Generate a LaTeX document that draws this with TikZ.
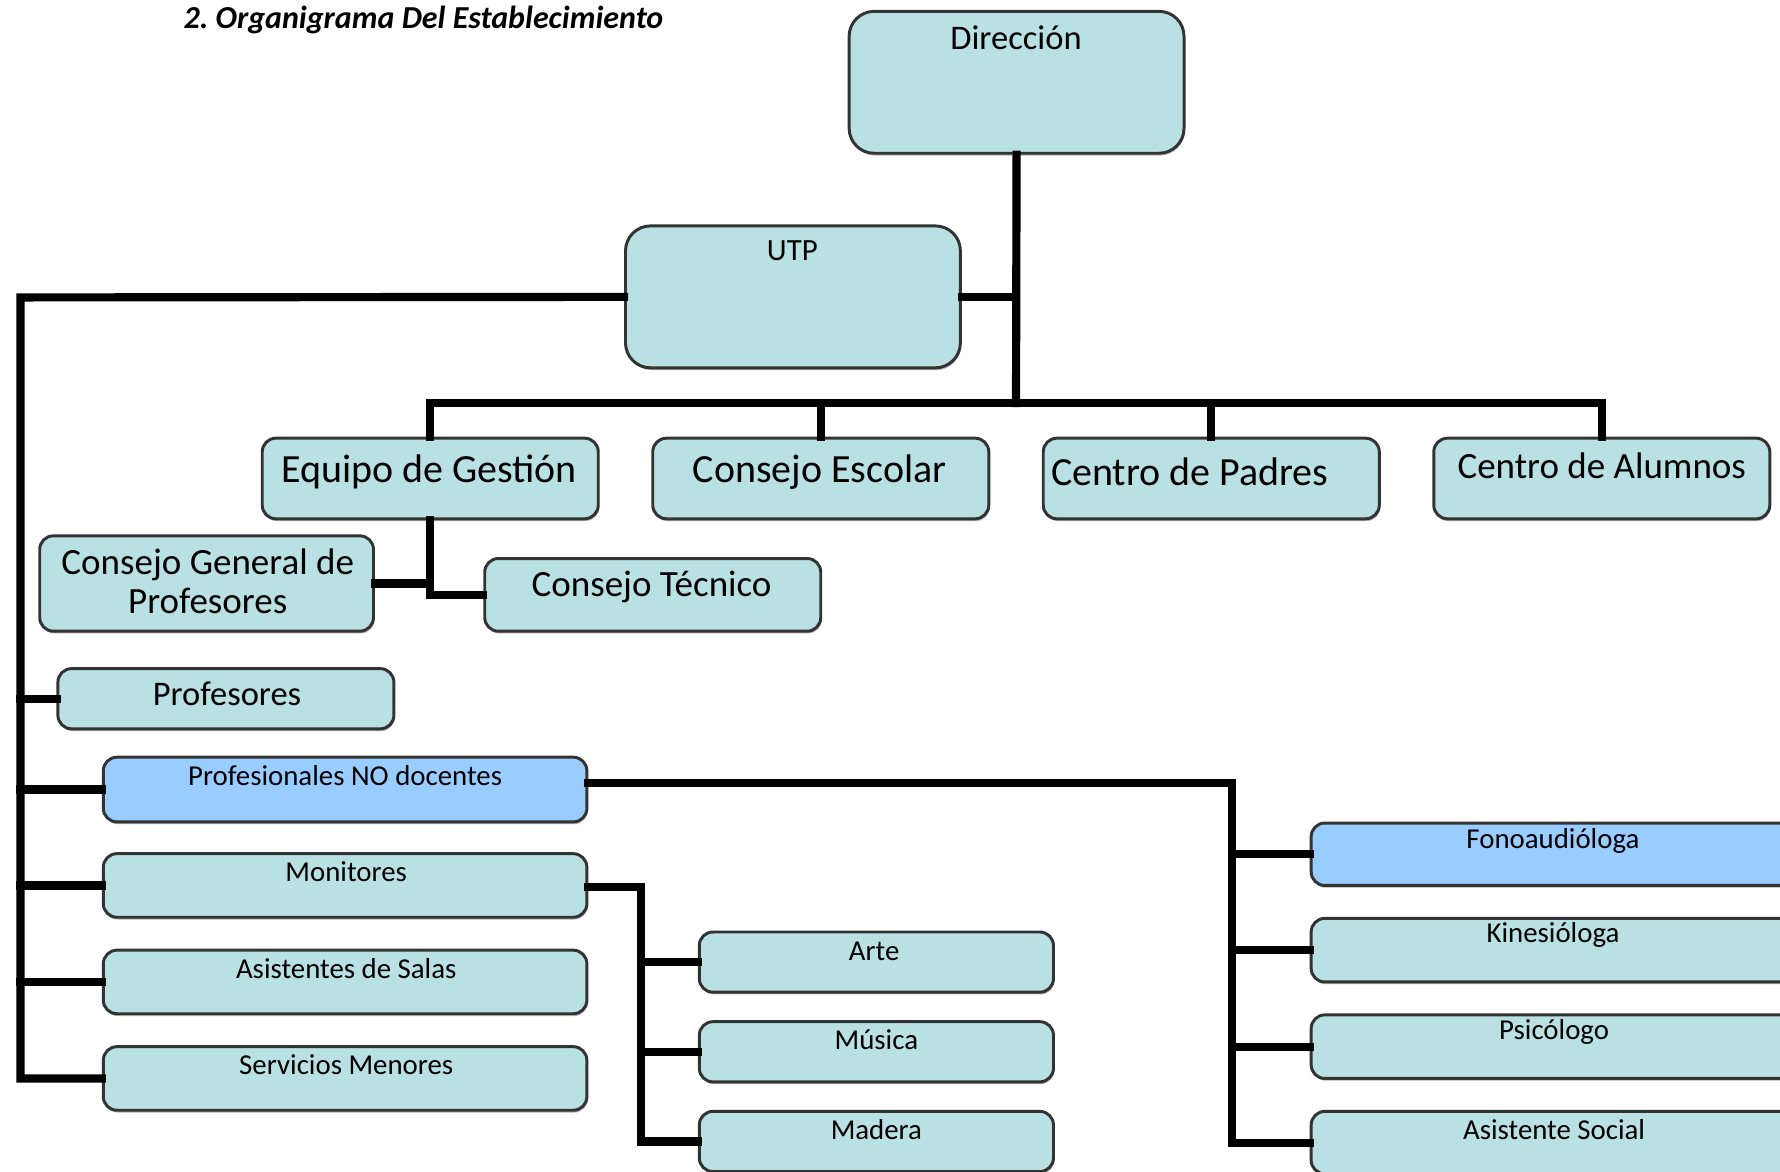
\documentclass[tikz,border=0pt]{standalone}
\usepackage{fontspec}
\setmainfont{Carlito}
\usetikzlibrary{fit,shadows}
\definecolor{boxfill}{HTML}{B9E0E2}
\definecolor{bluefill}{HTML}{99CCFF}
\definecolor{boxline}{HTML}{333333}
\tikzset{
  box/.style={draw=boxline, line width=1.3pt, fill=boxfill, rounded corners=6pt, inner sep=0pt,
    drop shadow={shadow xshift=0.4pt, shadow yshift=-1pt, fill=gray!60, opacity=1}},
  bigbox/.style={box, rounded corners=11pt},
  bluebox/.style={box, fill=bluefill},
  conn/.style={line width=3.6pt, line cap=rect, line join=miter},
  big/.style={font=\fontsize{17.6}{20}\selectfont, inner sep=0pt, align=center},
  med/.style={font=\fontsize{16.3}{17}\selectfont, inner sep=0pt, align=center},
  mid/.style={font=\fontsize{15.2}{17}\selectfont, inner sep=0pt},
  small/.style={font=\fontsize{12.7}{14}\selectfont, inner sep=0pt},
}
\begin{document}
\begin{tikzpicture}[x=0.5pt, y=-0.5pt]
\useasboundingbox (0,0) rectangle (1568,1032.4);
% title
\node[font=\fontsize{14.1}{16}\selectfont\bfseries\itshape, inner sep=0pt] (title) at (373,18) {2.\ Organigrama Del Establecimiento};
% coordinates
\coordinate (busC) at (895,355);
\coordinate (leftC) at (18,262);
\coordinate (pndR) at (1085,690);
\coordinate (monR) at (565,781);
% boxes
\node[bigbox, fit={(748,10) (1043,135)}] (dir) {};
\node[bigbox, fit={(551,199) (846,324)}] (utp) {};
\node[box, fit={(231,386) (527,457)}] (eg) {};
\node[box, fit={(575,386) (871,457)}] (ce) {};
\node[box, fit={(919,386) (1215,457)}] (cp) {};
\node[box, fit={(1263,386) (1559,457)}] (ca) {};
\node[box, fit={(35,472) (329,556)}] (cgp) {};
\node[box, fit={(427,492) (723,556)}] (ct) {};
\node[box, fit={(51,589) (347,642)}] (prof) {};
\node[bluebox, fit={(91,667) (517,724)}] (pnd) {};
\node[box, fit={(91,752) (517,808)}] (mon) {};
\node[box, fit={(91,837) (517,893)}] (asal) {};
\node[box, fit={(91,922) (517,978)}] (serv) {};
\node[box, fit={(616,821) (928,874)}] (arte) {};
\node[box, fit={(616,900) (928,953)}] (musica) {};
\node[box, fit={(616,979) (928,1032)}] (madera) {};
\node[bluebox, fit={(1155,725) (1600,780)}] (fono) {};
\node[box, fit={(1155,809) (1600,865)}] (kine) {};
\node[box, fit={(1155,894) (1600,950)}] (psic) {};
\node[box, fit={(1155,979) (1600,1034)}] (asoc) {};
% connectors
\draw[conn] (dir.south) -- (busC);
\draw[conn] (utp.east) -- (utp.east -| busC);
\draw[conn] (eg.north) -- (eg.north |- busC) -- (ca.north |- busC) -- (ca.north);
\draw[conn] (ce.north) -- (ce.north |- busC);
\draw[conn] (cp.north) -- (cp.north |- busC);
\draw[conn] (utp.west) -- (leftC) -- (leftC |- serv.west) -- (serv.west);
\draw[conn] (prof.west) -- (prof.west -| leftC);
\draw[conn] (pnd.west) -- (pnd.west -| leftC);
\draw[conn] (mon.west) -- (mon.west -| leftC);
\draw[conn] (asal.west) -- (asal.west -| leftC);
\draw[conn] (eg.south) -- (eg.south |- ct.west) -- (ct.west);
\draw[conn] (cgp.east) -- (cgp.east -| eg.south);
\draw[conn] (pnd.east |- pndR) -- (pndR) -- (pndR |- asoc.west) -- (asoc.west);
\draw[conn] (fono.west) -- (fono.west -| pndR);
\draw[conn] (kine.west) -- (kine.west -| pndR);
\draw[conn] (psic.west) -- (psic.west -| pndR);
\draw[conn] (mon.east |- monR) -- (monR) -- (monR |- madera.west) -- (madera.west);
\draw[conn] (arte.west) -- (arte.west -| monR);
\draw[conn] (musica.west) -- (musica.west -| monR);
% texts
\node[mid] (tdir) at (895,33) {Dirección};
\node[font=\fontsize{13.6}{16}\selectfont, inner sep=0pt] (tutp) at (698,221) {UTP};
\node[big] (teg) at (378,416) {Equipo de Gestión};
\node[big] (tce) at (722,416) {Consejo Escolar};
\node[big] (tcp) at (1048,416) {Centro de Padres};
\node[med] (tca) at (1411,410) {Centro de Alumnos};
\node[med] (tcgp) at (183,512) {Consejo General de\\Profesores};
\node[med] (tct) at (574,517) {Consejo Técnico};
\node[mid] (tprof) at (200,611) {Profesores};
\node[small] (tpnd) at (304,683) {Profesionales NO docentes};
\node[small] (tmon) at (305,768) {Monitores};
\node[small] (tasal) at (305,853) {Asistentes de Salas};
\node[small] (tserv) at (305,938) {Servicios Menores};
\node[small] (tarte) at (770,838) {Arte};
\node[small] (tmus) at (772,916) {Música};
\node[small] (tmad) at (772,995) {Madera};
\node[small] (tfono) at (1368,741) {Fonoaudióloga};
\node[small] (tkine) at (1368,824) {Kinesióloga};
\node[small] (tpsic) at (1369,909) {Psicólogo};
\node[small] (tasoc) at (1369,995) {Asistente Social};
\end{tikzpicture}
\end{document}
